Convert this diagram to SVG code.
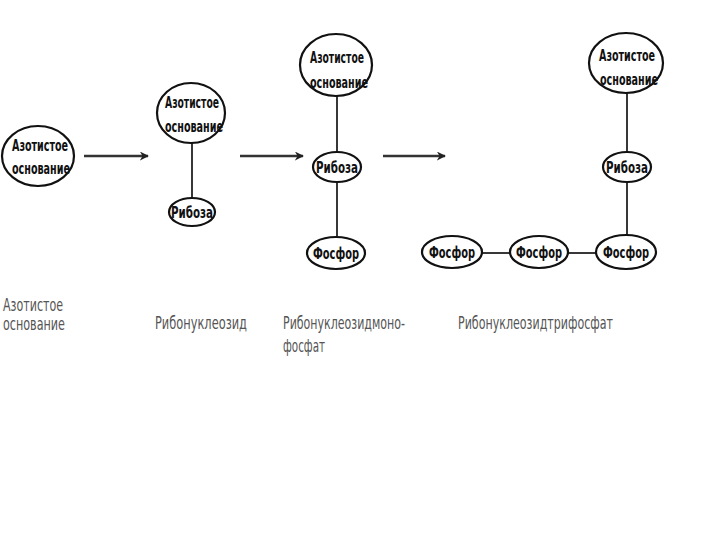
<svg xmlns="http://www.w3.org/2000/svg" width="720" height="540" viewBox="0 0 720 540">
<defs>
<marker id="ah" viewBox="0 0 10 10" refX="9" refY="5" markerWidth="9" markerHeight="9" markerUnits="userSpaceOnUse" orient="auto">
<path d="M0,0 L10,5 L0,10 L3,5 z" fill="#222"/>
</marker>
<style>
.n{fill:#fff;stroke:#111;stroke-width:2.2}
.t{font-family:"Liberation Sans Narrow","DejaVu Sans Condensed","Liberation Sans",sans-serif;font-stretch:condensed;font-weight:bold;font-size:16px;fill:#111;text-anchor:middle}
.l{font-family:"Liberation Sans Narrow","DejaVu Sans Condensed","Liberation Sans",sans-serif;font-stretch:condensed;font-size:17px;fill:#555}
.c{stroke:#222;stroke-width:1.8;fill:none}
.a{stroke:#333;stroke-width:2.4;fill:none;marker-end:url(#ah)}
</style>
</defs>
<rect width="720" height="540" fill="#fff"/>
<g id="connectors">
<line class="a" x1="84" y1="156" x2="148" y2="156"/>
<line class="a" x1="240" y1="156" x2="303" y2="156"/>
<line class="a" x1="383" y1="156" x2="445" y2="156"/>
<line class="c" x1="192" y1="142" x2="192" y2="198"/>
<line class="c" x1="337" y1="96" x2="337" y2="152"/>
<line class="c" x1="337" y1="182" x2="337" y2="237"/>
<line class="c" x1="627" y1="93" x2="627" y2="152"/>
<line class="c" x1="627" y1="182" x2="627" y2="235"/>
<line class="c" x1="482" y1="253" x2="510" y2="253"/>
<line class="c" x1="568" y1="253" x2="597" y2="253"/>
</g>
<g id="n1"><ellipse class="n" cx="38" cy="156" rx="36" ry="30"/><text class="t" x="40" y="151" textLength="56" lengthAdjust="spacingAndGlyphs">Азотистое</text><text class="t" x="41" y="174" textLength="58" lengthAdjust="spacingAndGlyphs">основание</text></g>
<g id="n2a"><ellipse class="n" cx="191" cy="113" rx="34" ry="30"/><text class="t" x="192" y="108" textLength="54" lengthAdjust="spacingAndGlyphs">Азотистое</text><text class="t" x="194" y="132" textLength="58" lengthAdjust="spacingAndGlyphs">основание</text></g>
<g id="n2b"><ellipse class="n" cx="192" cy="212" rx="23" ry="14"/><text class="t" x="192" y="218" textLength="42" lengthAdjust="spacingAndGlyphs">Рибоза</text></g>
<g id="n3a"><ellipse class="n" cx="336" cy="65" rx="36" ry="31"/><text class="t" x="337" y="63" textLength="54" lengthAdjust="spacingAndGlyphs">Азотистое</text><text class="t" x="339" y="88" textLength="58" lengthAdjust="spacingAndGlyphs">основание</text></g>
<g id="n3b"><ellipse class="n" cx="337" cy="167" rx="24" ry="15"/><text class="t" x="337" y="173" textLength="42" lengthAdjust="spacingAndGlyphs">Рибоза</text></g>
<g id="n3c"><ellipse class="n" cx="336" cy="253" rx="29" ry="16"/><text class="t" x="336" y="259" textLength="46" lengthAdjust="spacingAndGlyphs">Фосфор</text></g>
<g id="n4a"><ellipse class="n" cx="626" cy="63" rx="37" ry="30"/><text class="t" x="627" y="61" textLength="56" lengthAdjust="spacingAndGlyphs">Азотистое</text><text class="t" x="629" y="85" textLength="58" lengthAdjust="spacingAndGlyphs">основание</text></g>
<g id="n4b"><ellipse class="n" cx="627" cy="167" rx="24" ry="15"/><text class="t" x="627" y="173" textLength="42" lengthAdjust="spacingAndGlyphs">Рибоза</text></g>
<g id="n4c"><ellipse class="n" cx="626" cy="252" rx="30" ry="17"/><text class="t" x="626" y="258" textLength="46" lengthAdjust="spacingAndGlyphs">Фосфор</text></g>
<g id="n4d"><ellipse class="n" cx="539" cy="252" rx="29" ry="16"/><text class="t" x="539" y="258" textLength="46" lengthAdjust="spacingAndGlyphs">Фосфор</text></g>
<g id="n4e"><ellipse class="n" cx="452" cy="252" rx="30" ry="16"/><text class="t" x="452" y="258" textLength="46" lengthAdjust="spacingAndGlyphs">Фосфор</text></g>
<g id="labels">
<text class="l" x="3" y="311" textLength="60" lengthAdjust="spacingAndGlyphs">Азотистое</text>
<text class="l" x="3" y="330" textLength="62" lengthAdjust="spacingAndGlyphs">основание</text>
<text class="l" x="155" y="329" textLength="92" lengthAdjust="spacingAndGlyphs">Рибонуклеозид</text>
<text class="l" x="283" y="329" textLength="122" lengthAdjust="spacingAndGlyphs">Рибонуклеозидмоно-</text>
<text class="l" x="283" y="352" textLength="42" lengthAdjust="spacingAndGlyphs">фосфат</text>
<text class="l" x="458" y="329" textLength="155" lengthAdjust="spacingAndGlyphs">Рибонуклеозидтрифосфат</text>
</g>
</svg>
